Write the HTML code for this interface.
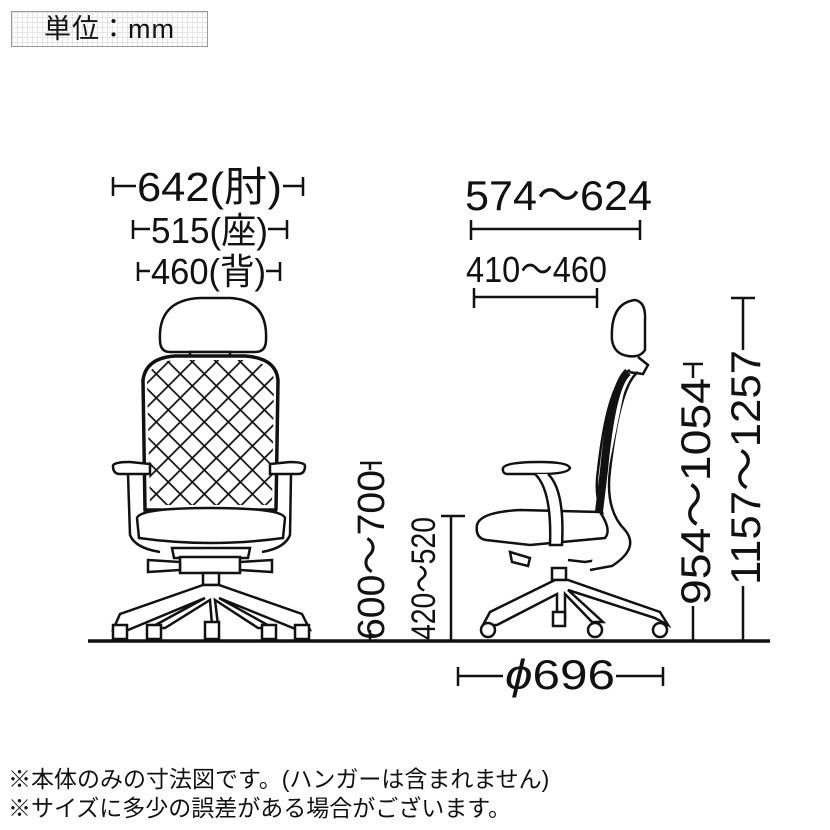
<!DOCTYPE html>
<html><head><meta charset="utf-8"><style>
body{margin:0;background:#fff;width:830px;height:830px;overflow:hidden;position:relative;font-family:"Liberation Sans","Noto Sans CJK JP",sans-serif;color:#111}
.box{position:absolute;left:11px;top:11px;width:197px;height:36px;border:1px solid #999;box-sizing:border-box;
background-color:#fff;background-image:linear-gradient(#e4e4e4 1px,transparent 1px),linear-gradient(90deg,#e4e4e4 1px,transparent 1px);background-size:5px 5px;
font-size:27px;line-height:34px;padding-left:32px;letter-spacing:1px}
.note{position:absolute;left:8px;font-size:23px;letter-spacing:0px;white-space:nowrap}
</style></head><body>
<div class="box">単位：mm</div>
<svg width="830" height="830" style="position:absolute;left:0;top:0" font-family="Liberation Sans, Noto Sans CJK JP, sans-serif">
<defs>
<pattern id="dia" width="17" height="17" patternUnits="userSpaceOnUse" patternTransform="rotate(45)">
<rect width="17" height="17" fill="#fff"/><path d="M0 0H17M0 0V17" stroke="#111" stroke-width="3.5"/></pattern>
<clipPath id="bk"><path d="M147 380 Q150 362 175 360 L245 360 Q272 362 274 380 L272 505 L150 505 Z"/></clipPath>
</defs>
<g stroke="#111" fill="none" stroke-width="2.5">
<line x1="88" y1="641" x2="770" y2="641" stroke-width="3.5"/>
<line x1="113" y1="186" x2="136" y2="186"/><line x1="283" y1="186" x2="303" y2="186"/>
<line x1="113" y1="177" x2="113" y2="196"/><line x1="303" y1="177" x2="303" y2="196"/>
<line x1="133" y1="229" x2="150" y2="229"/><line x1="268" y1="229" x2="287" y2="229"/>
<line x1="133" y1="220" x2="133" y2="239"/><line x1="287" y1="220" x2="287" y2="239"/>
<line x1="138" y1="271" x2="150" y2="271"/><line x1="266" y1="271" x2="280" y2="271"/>
<line x1="138" y1="262" x2="138" y2="281"/><line x1="280" y1="262" x2="280" y2="281"/>
<line x1="471" y1="229" x2="640" y2="229"/><line x1="471" y1="220" x2="471" y2="240"/><line x1="640" y1="220" x2="640" y2="240"/>
<line x1="474" y1="297" x2="597" y2="297"/><line x1="474" y1="288" x2="474" y2="308"/><line x1="597" y1="288" x2="597" y2="308"/>
<line x1="360" y1="463" x2="382" y2="463"/><line x1="370" y1="463" x2="370" y2="470"/><line x1="370" y1="630" x2="370" y2="641"/>
<line x1="441" y1="516" x2="465" y2="516"/><line x1="451" y1="516" x2="451" y2="641"/>
<line x1="683" y1="364" x2="703" y2="364"/><line x1="693" y1="364" x2="693" y2="378"/><line x1="693" y1="606" x2="693" y2="641"/>
<line x1="731" y1="298" x2="755" y2="298"/><line x1="743" y1="298" x2="743" y2="350"/><line x1="743" y1="586" x2="743" y2="641"/>
<line x1="458" y1="676" x2="503" y2="676"/><line x1="616" y1="676" x2="663" y2="676"/>
<line x1="458" y1="667" x2="458" y2="686"/><line x1="663" y1="667" x2="663" y2="686"/>
</g>
<g fill="#111">
<text x="137" y="201" font-size="41" textLength="145" lengthAdjust="spacingAndGlyphs">642(肘)</text>
<text x="151" y="243" font-size="36" textLength="117" lengthAdjust="spacingAndGlyphs">515(座)</text>
<text x="151" y="284" font-size="36" textLength="115" lengthAdjust="spacingAndGlyphs">460(背)</text>
<text x="465" y="210" font-size="42" textLength="187" lengthAdjust="spacingAndGlyphs">574～624</text>
<text x="466" y="282" font-size="36" textLength="141" lengthAdjust="spacingAndGlyphs">410～460</text>
<text x="505" y="689" font-size="42" textLength="110" lengthAdjust="spacingAndGlyphs"><tspan font-style="italic">ϕ</tspan>696</text>
<text transform="translate(384,640) rotate(-90)" font-size="38" textLength="170" lengthAdjust="spacingAndGlyphs">600～700</text>
<text transform="translate(435,640) rotate(-90)" font-size="34" textLength="123" lengthAdjust="spacingAndGlyphs">420～520</text>
<text transform="translate(710,605) rotate(-90)" font-size="42" textLength="227" lengthAdjust="spacingAndGlyphs">954～1054</text>
<text transform="translate(760,585) rotate(-90)" font-size="42" textLength="235" lengthAdjust="spacingAndGlyphs">1157～1257</text>
</g>
<g stroke="#111" fill="#fff" stroke-width="2.5">
<path d="M160 340 Q158 300 200 298 L230 298 Q268 300 266 340 Q266 352 255 352 L170 352 Q160 352 160 340Z"/>
<rect x="190" y="352" width="40" height="8"/>
<path d="M143 380 Q146 358 175 356 L245 356 Q276 358 278 380 L276 510 L145 510 Z" stroke-width="3.5"/>
<rect x="140" y="355" width="140" height="160" fill="url(#dia)" stroke="none" clip-path="url(#bk)"/>
<path d="M113 466 Q113 462 130 462 L150 464 L150 474 L120 474 Q113 474 113 466Z"/>
<path d="M305 466 Q305 462 290 462 L270 464 L270 474 L298 474 Q305 474 305 466Z"/>
<path d="M128 474 L130 535 Q135 548 160 552"/><path d="M291 474 L290 535 Q285 548 262 552"/>
<path d="M137 518 Q140 508 210 508 Q282 508 285 518 L283 538 Q210 548 139 538 Z"/>
<path d="M172 548 L250 548 L248 558 L174 558Z"/>
<rect x="180" y="557" width="60" height="16"/>
<path d="M148 560 L180 562 L180 570 L148 572Z"/><path d="M272 560 L240 562 L240 570 L272 572Z"/>
<rect x="203" y="573" width="16" height="12"/>
<path d="M203 585 L120 614 L113 630 L128 630 L205 598 L150 628 L165 628 L210 600 L212 625 L218 625 L215 600 L258 628 L273 628 L219 598 L298 630 L310 630 L302 614 L219 585 Z"/>
<rect x="113" y="625" width="14" height="14"/><rect x="147" y="625" width="14" height="14"/><rect x="205" y="622" width="14" height="17"/><rect x="262" y="625" width="14" height="14"/><rect x="295" y="625" width="14" height="14"/>
</g>
<g stroke="#111" fill="#fff" stroke-width="2.5">
<path d="M612 340 Q610 303 635 300 Q646 302 645 320 L645 350 Q640 358 628 356 Q614 354 612 340Z"/>
<path d="M638 357 L648 365 L643 374 L628 372"/>
<path d="M630 370 Q608 380 598 470 Q592 510 615 530 Q625 545 610 558 L585 562 L568 560"/>
<path d="M638 372 Q620 385 610 470 Q605 510 625 530 Q640 548 612 566 L590 570" />
<path d="M628 372 Q612 385 604 470 L598 520" stroke="#111" stroke-width="8"/>
<path d="M477 525 Q480 512 520 510 L600 512 Q612 530 605 538 L530 545 L486 540 Q475 538 477 525Z"/>
<path d="M503 468 Q506 462 540 462 Q568 462 570 468 Q568 474 540 474 L508 474 Q502 474 503 468Z"/>
<path d="M535 474 Q552 490 550 545 L562 545 Q565 490 548 474"/>
<path d="M510 552 L530 558 L528 566 L512 562Z"/>
<rect x="552" y="568" width="14" height="12"/>
<path d="M555 580 L490 612 L483 625 L497 625 L557 594 L557 620 L565 620 L565 594 L592 622 L603 622 L568 590 L655 618 L668 625 L660 612 L568 580Z"/>
<circle cx="488" cy="630" r="7"/><circle cx="595" cy="630" r="7"/><circle cx="660" cy="630" r="7"/>
<rect x="553" y="612" width="12" height="14"/>
</g>
</svg>
<div class="note" style="top:760px">※本体のみの寸法図です。(ハンガーは含まれません)</div>
<div class="note" style="top:789px">※サイズに多少の誤差がある場合がございます。</div>
</body></html>
